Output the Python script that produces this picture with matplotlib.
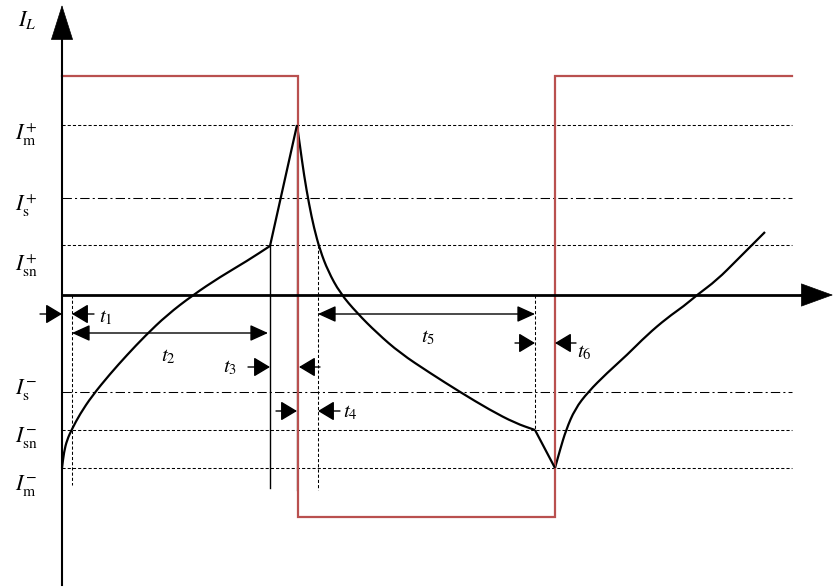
import numpy as np
import matplotlib
matplotlib.use("Agg")
import matplotlib.pyplot as plt
from matplotlib.path import Path
from matplotlib.patches import PathPatch

plt.rcParams['mathtext.fontset'] = 'stix'
plt.rcParams['font.family'] = ['Liberation Serif', 'DejaVu Serif']

# drawing is laid out on a 839 x 588 grid (y grows downward)
W, H = 839, 588
x0, y0 = 62, 295          # origin of the I_L / t axes
x_end = 792               # right end of the level lines and the square wave

# current levels (grid rows) and their labels
levels_y = [125, 198, 245, 392, 430, 468]
levels_style = ['dash', 'dashdot', 'dash', 'dashdot', 'dash', 'dash']
levels_lbl = [r'$I_{\mathrm{m}}^{+}$', r'$I_{\mathrm{s}}^{+}$', r'$I_{\mathrm{sn}}^{+}$',
              r'$I_{\mathrm{s}}^{-}$', r'$I_{\mathrm{sn}}^{-}$', r'$I_{\mathrm{m}}^{-}$']
lbl_y = [135, 206, 266, 390, 437, 485]

# gate signal (square wave)
gate_x = [62, 298, 298, 555, 555, 792]
gate_y = [76, 76, 517, 517, 76, 76]

# inductor current, piece by piece (smooth parts go through a quadratic path)
cur_x1 = [62, 64, 67, 72, 80, 92, 110, 127, 145, 167, 193, 220, 247, 270]
cur_y1 = [468, 452, 440, 429, 414, 396, 374, 355, 336, 315, 295, 277, 261, 246]
cur_x2 = [270, 297]
cur_y2 = [246, 125]
cur_x3 = [297, 300, 304, 309, 314, 320, 328, 340, 357, 377, 400, 430, 460, 490, 515, 535]
cur_y3 = [125, 146, 175, 204, 228, 250, 271, 293, 313, 333, 353, 373, 392, 410, 423, 430]
cur_x4 = [535, 555]
cur_y4 = [430, 468]
cur_x5 = [555, 560, 566, 575, 588, 607, 627, 647, 667, 684, 697, 717, 737, 753, 765]
cur_y5 = [468, 450, 430, 409, 392, 373, 355, 335, 318, 306, 295, 280, 260, 244, 232]

# time markers: (x, y_top, y_bottom, style)
marks = [(72, 295, 485, 'dash'), (270, 245, 488, 'solid'),
         (296.5, 125, 490, 'gray'), (318, 245, 490, 'dash'), (535, 295, 430, 'dash')]

# interval arrows: (tail, head)
arrows = [((40, 314), (62, 314)), ((94, 314), (72, 314)),
          ((248, 367), (270, 367)), ((320, 367), (299, 367)),
          ((276, 411), (297, 411)), ((340, 411), (318, 411)),
          ((515, 343), (535, 343)), ((576, 343), (555, 343))]
both_arrows = [((72, 333), (268, 333)), ((318, 314), (535, 314))]
t_lbl = [r'$t_1$', r'$t_2$', r'$t_3$', r'$t_4$', r'$t_5$', r'$t_6$']
t_pos = [(106, 318), (168, 357), (230, 368), (350, 413), (428, 338), (584, 353)]


def smooth_path(xs, ys):
    # quadratic bezier through the midpoints, anchored at both ends
    p = np.column_stack([xs, ys]).astype(float)
    verts = [p[0], (p[0] + p[1]) / 2]
    codes = [Path.MOVETO, Path.LINETO]
    for i in range(1, len(p) - 1):
        verts += [p[i], (p[i] + p[i + 1]) / 2]
        codes += [Path.CURVE3, Path.CURVE3]
    verts.append(p[-1])
    codes.append(Path.LINETO)
    return Path(verts, codes)


fig = plt.figure(figsize=(W / 100, H / 100), dpi=100)
ax = fig.add_axes([0, 0, 1, 1])
ax.set_xlim(0, W)
ax.set_ylim(H, 0)
ax.axis('off')

dash = (0, (3, 2))
dashdot = (0, (9, 3, 2, 3))
for yv, st in zip(levels_y, levels_style):
    ax.plot([x0, x_end], [yv, yv], color='k', lw=0.75,
            linestyle=dash if st == 'dash' else dashdot)
for yv, s in zip(lbl_y, levels_lbl):
    ax.text(15, yv, s, fontsize=16, ha='left', va='center')

for xv, ya, yb, st in marks:
    if st == 'dash':
        ax.plot([xv, xv], [ya, yb], color='k', lw=0.75, linestyle=dash)
    elif st == 'gray':
        ax.plot([xv, xv], [ya, yb], color='#666666', lw=1.0)
    else:
        ax.plot([xv, xv], [ya, yb], color='k', lw=1.0)

ax.plot(gate_x, gate_y, color='#b9504f', lw=1.6, solid_joinstyle='miter')

for cx, cy in [(cur_x1, cur_y1), (cur_x3, cur_y3), (cur_x5, cur_y5)]:
    ax.add_patch(PathPatch(smooth_path(cx, cy), fill=False, edgecolor='k', lw=1.6,
                           capstyle='butt', joinstyle='round'))
for cx, cy in [(cur_x2, cur_y2), (cur_x4, cur_y4)]:
    ax.plot(cx, cy, color='k', lw=1.6, solid_capstyle='butt')

# axes with big arrowheads
ax.plot([x0, x0], [585, 40], color='k', lw=1.5)
ax.plot([x0, 805], [y0, y0], color='k', lw=2.0)
ax.annotate('', xy=(x0, 5), xytext=(x0, 40),
            arrowprops=dict(arrowstyle='-|>,head_length=1.2,head_width=0.38',
                            mutation_scale=20, color='k', lw=0.5, shrinkA=0, shrinkB=0))
ax.annotate('', xy=(833, y0), xytext=(800, y0),
            arrowprops=dict(arrowstyle='-|>,head_length=1.1,head_width=0.4',
                            mutation_scale=20, color='k', lw=0.5, shrinkA=0, shrinkB=0))
ax.text(18, 20, r'$I_L$', fontsize=16, ha='left', va='center')

sty = '-|>,head_length=1.0,head_width=0.6'
for tail, head in arrows:
    ax.annotate('', xy=head, xytext=tail,
                arrowprops=dict(arrowstyle=sty, mutation_scale=10, color='k',
                                lw=1.0, shrinkA=0, shrinkB=0))
for a, b in both_arrows:
    ax.annotate('', xy=b, xytext=a,
                arrowprops=dict(arrowstyle='<|-|>,head_length=1.1,head_width=0.5',
                                mutation_scale=10, color='k', lw=1.0, shrinkA=0, shrinkB=0))

for (tx, ty), s in zip(t_pos, t_lbl):
    ax.text(tx, ty, s, fontsize=15, ha='center', va='center')

fig.savefig('out.png', dpi=100)
